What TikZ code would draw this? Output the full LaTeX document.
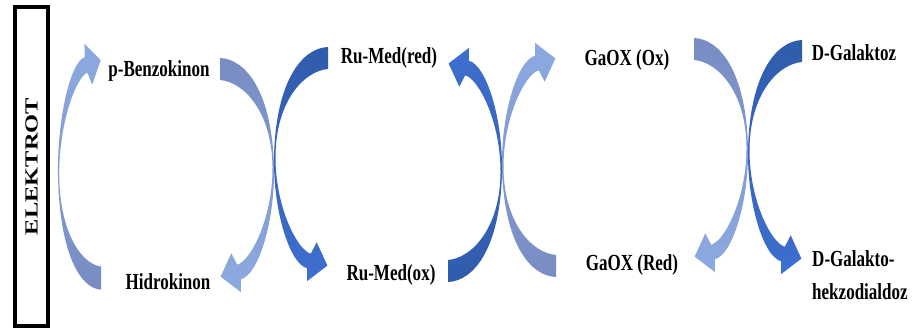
\documentclass[tikz,border=0pt]{standalone}
\usepackage{fontspec}
\setmainfont{Liberation Serif}
\newfontfamily\lblfont[FakeStretch=0.74]{Liberation Serif}

\definecolor{arcgrey}{HTML}{788CC3}
\definecolor{arclight}{HTML}{8CAAE1}
\definecolor{arcdark}{HTML}{305CAC}
\definecolor{arcblue}{HTML}{3E6FCF}

\tikzset{
    lbl/.style={font=\lblfont\bfseries\fontsize{23}{26}\selectfont, inner sep=0pt},
    elektrode/.style={draw, line width=4.5pt, minimum width=33pt, minimum height=319pt,
        inner sep=0pt, font=\bfseries\fontsize{18.5}{20}\selectfont},
    % one ")" arc: tail on top, thin at the crossing (0,0), head at the bottom
    pics/redox/.style 2 args={code={
        \shade[top color=#1, bottom color=#2]
            (-54,-114) .. controls (-28,-113) and (-2,-80) .. (0,-5)
            .. controls (1,50) and (-15.7,103) .. (-33.2,107.3)
            -- (-33.1,120.1) -- (-53.4,104.6) -- (-42.7,81.3) -- (-36.8,92.7)
            .. controls (-23.2,89.3) and (-1,45) .. (-1.5,-5)
            .. controls (-2,-60) and (-30,-90) .. (-54,-92) -- cycle;
    }}
}

\begin{document}
\begin{tikzpicture}[x=1pt, y=-1pt]
    \useasboundingbox (0,0) rectangle (912,334);

    % Electrode
    \node[elektrode] (elektrot) at (31.5,166.5) {\rotatebox{90}{\scalebox{1.32}[1]{ELEKTROT}}};

    % Crossing points
    \coordinate (x0) at (58,170);
    \coordinate (x1l) at (274,172);
    \coordinate (x1r) at (274,161);
    \coordinate (x2l) at (502,168);
    \coordinate (x2r) at (502,163);
    \coordinate (x3l) at (748,152);
    \coordinate (x3r) at (748,154);

    % Arcs
    \pic[xscale=-0.8, yscale=-1.05] at (x0) {redox={arclight}{arcgrey}};
    \pic at (x1l) {redox={arcgrey}{arclight}};
    \pic[xscale=-1] at (x1r) {redox={arcdark}{arcblue}};
    \pic[yscale=-1] at (x2l) {redox={arcblue}{arcdark}};
    \pic[xscale=-1, yscale=-1] at (x2r) {redox={arclight}{arcgrey}};
    \pic at (x3l) {redox={arcgrey}{arclight}};
    \pic[xscale=-1] at (x3r) {redox={arcdark}{arcblue}};

    % Labels
    \node[lbl] (benzo) at (159,71) {p-Benzokinon};
    \node[lbl] (hidro) at (168,282) {Hidrokinon};
    \node[lbl] (rured) at (389,58) {Ru-Med(red)};
    \node[lbl] (ruox) at (391,275) {Ru-Med(ox)};
    \node[lbl] (gaox) at (627,60) {GaOX (Ox)};
    \node[lbl] (gared) at (632,265) {GaOX (Red)};
    \node[lbl] (galaktoz) at (854,53) {D-Galaktoz};
    \node[lbl, font=\lblfont\bfseries\fontsize{23}{33}\selectfont, align=left, anchor=west]
        (hekzo) at (812,275) {D-Galakto-\\hekzodialdoz};
\end{tikzpicture}
\end{document}
